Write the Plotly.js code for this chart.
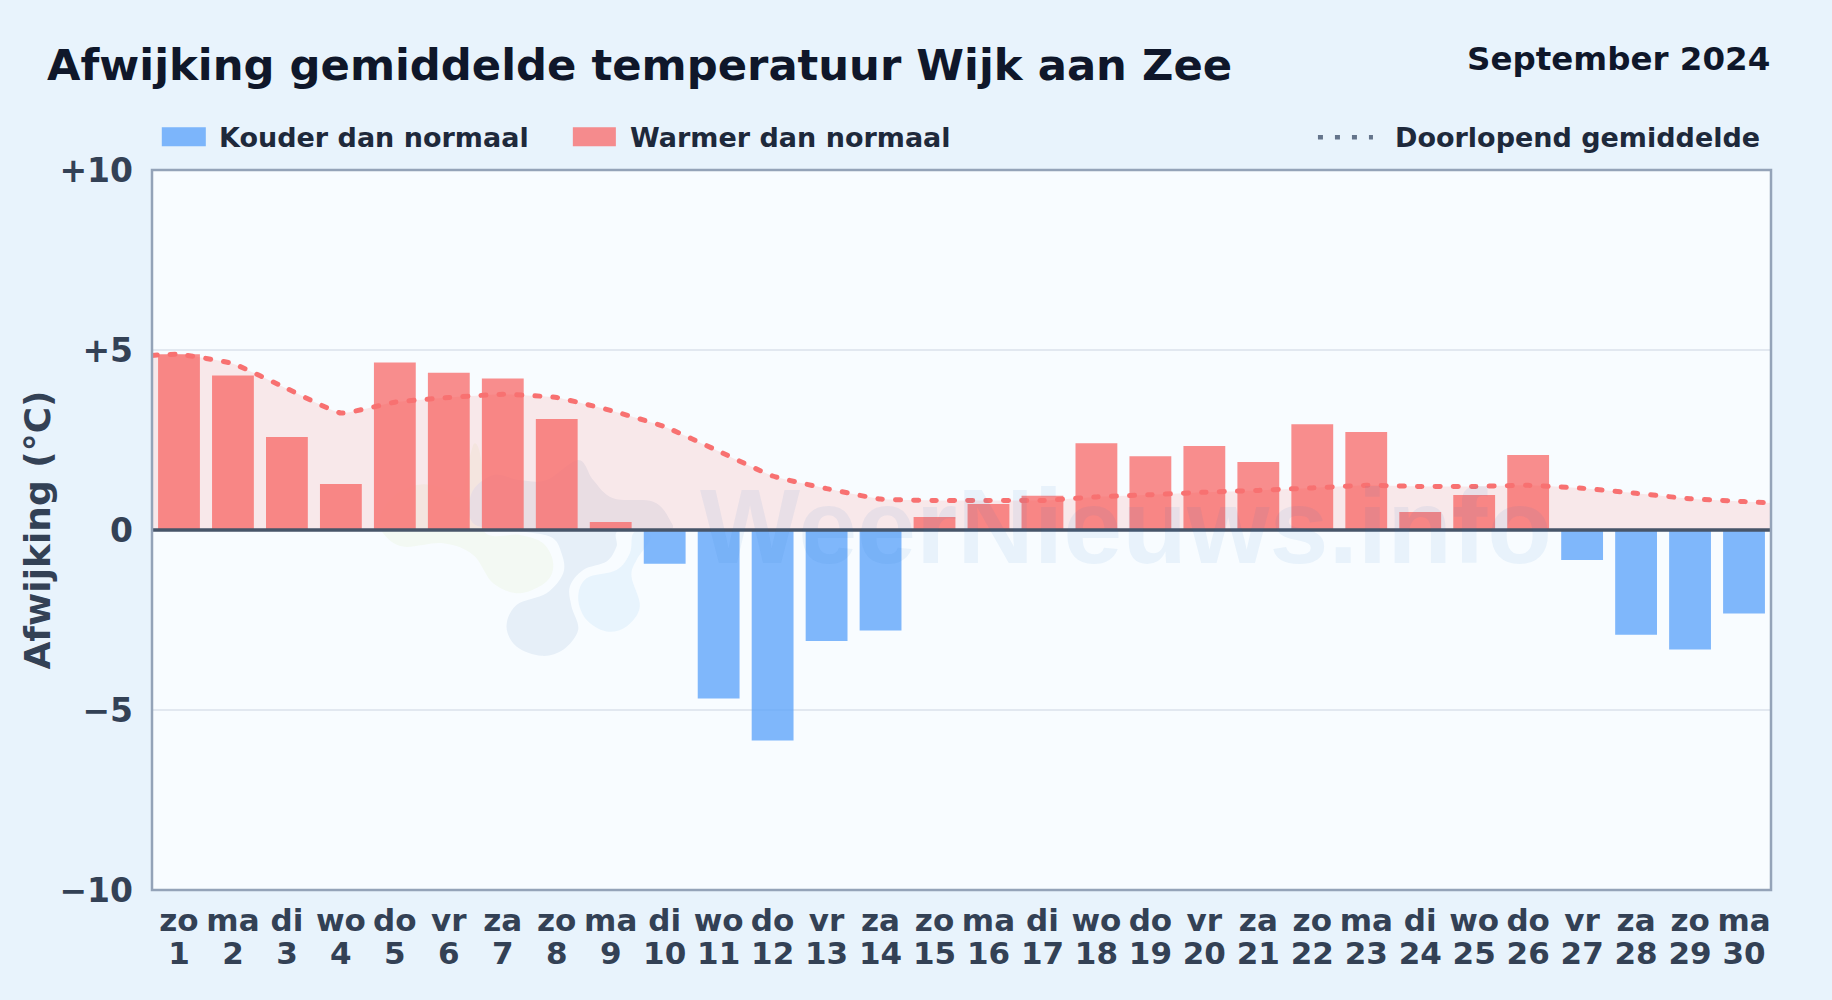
<!DOCTYPE html>
<html><head><meta charset="utf-8">
<script src="https://cdn.plot.ly/plotly-3.0.1.min.js"></script>
<style>html,body{margin:0;padding:0;background:#e8f3fc}#c{width:1832px;height:1000px}</style>
</head><body><div id="c"></div>
<script>
const days=[1,2,3,4,5,6,7,8,9,10,11,12,13,14,15,16,17,18,19,20,21,22,23,24,25,26,27,28,29,30];
const weekdays=["zo","ma","di","wo","do","vr","za","zo","ma","di","wo","do","vr","za","zo","ma","di","wo","do","vr","za","zo","ma","di","wo","do","vr","za","zo","ma"];
const deviations=[4.88,4.29,2.58,1.28,4.65,4.37,4.21,3.08,0.22,-0.94,-4.68,-5.85,-3.08,-2.79,0.36,0.72,0.95,2.41,2.05,2.33,1.89,2.94,2.72,0.50,0.97,2.08,-0.83,-2.91,-3.32,-2.32];
const meanX=[0.5,1,2,3,4,5,6,7,8,9,10,11,12,13,14,15,16,17,18,19,20,21,22,23,24,25,26,27,28,29,30,30.5];
const meanY=[4.85,4.88,4.62,3.93,3.25,3.55,3.68,3.77,3.68,3.32,2.87,2.19,1.5,1.15,0.86,0.82,0.82,0.82,0.92,0.98,1.05,1.10,1.17,1.24,1.21,1.21,1.24,1.16,1.02,0.87,0.79,0.75];
const yTicks=[-10,-5,0,5,10];
const yLabels=["−10","−5","0","+5","+10"];
const FONT='"DejaVu Sans", sans-serif';
const warmIdx=days.map((d,i)=>i).filter(i=>deviations[i]>=0);
const coldIdx=days.map((d,i)=>i).filter(i=>deviations[i]<0);
function paperShape(o){return Object.assign({xref:'paper',yref:'paper'},o);}
const W=1832,H=1000,L=152.2,R=1771,T=169.7,B=890.4;
const px=x=>(x-L)/(R-L), py=y=>(B-y)/(B-T);
// faint watermark logo outlines, traced in a 3x crop whose origin is (360,430)
const logoGreen=[[70,310],[130,350],[250,340],[340,375],[400,460],[480,490],[560,455],[580,400],[550,340],[480,315],[370,300],[365,100],[345,40],[325,100],[300,200],[240,170],[170,165],[100,200],[60,260]];
const logoBlue=[[440,590],[470,525],[560,490],[610,430],[605,370],[570,320],[450,300],[340,280],[335,190],[400,135],[480,150],[560,150],[655,90],[700,150],[760,205],[880,215],[930,270],[925,300],[780,300],[770,350],[740,395],[670,420],[630,470],[635,530],[655,600],[610,660],[545,678],[470,650]];
const logoSky=[[655,505],[680,445],[770,420],[810,370],[820,310],[860,305],[870,330],[830,390],[815,440],[840,530],[800,590],[740,605],[680,570]];
function blob(pts){
  const P=pts.map(p=>[px(360+p[0]/3),py(430+p[1]/3)]),n=P.length;
  let d='M'+P[0][0]+','+P[0][1];
  for(let i=0;i<n;i++){
    const a=P[(i-1+n)%n],b=P[i],c=P[(i+1)%n],e=P[(i+2)%n];
    d+=' C'+(b[0]+(c[0]-a[0])/6)+','+(b[1]+(c[1]-a[1])/6)+' '+(c[0]-(e[0]-b[0])/6)+','+(c[1]-(e[1]-b[1])/6)+' '+c[0]+','+c[1];
  }
  return d+' Z';
}
const traces=[
 {type:'scatter',mode:'lines',x:meanX,y:meanY,fill:'tozeroy',fillcolor:'rgba(255,90,80,0.12)',line:{width:0,shape:'spline',smoothing:0.4},showlegend:false,hoverinfo:'skip'},
 {type:'bar',name:'Warmer dan normaal',x:warmIdx.map(i=>days[i]),y:warmIdx.map(i=>deviations[i]),width:0.775,marker:{color:'#f87171',opacity:0.8,line:{width:0}},showlegend:false},
 {type:'bar',name:'Kouder dan normaal',x:coldIdx.map(i=>days[i]),y:coldIdx.map(i=>deviations[i]),width:0.775,marker:{color:'#60a5fa',opacity:0.8,line:{width:0}},showlegend:false},
 {type:'scatter',mode:'lines',name:'Doorlopend gemiddelde',x:meanX,y:meanY,line:{color:'#f87171',width:5,dash:'5px,13px',shape:'spline',smoothing:0.4},showlegend:false},
 {type:'scatter',mode:'lines',xaxis:'x2',yaxis:'y2',x:days,y:days.map(()=>null),showlegend:false,hoverinfo:'skip'}
];
const layout={
 width:W,height:H,margin:{l:L,r:W-R,t:T,b:H-B,pad:0},
 paper_bgcolor:'#e8f3fc',plot_bgcolor:'#f8fcff',barmode:'overlay',showlegend:false,
 font:{family:FONT,color:'#334155'},
 xaxis:{range:[0.5,30.5],tickmode:'array',tickvals:days,ticktext:weekdays,tickangle:0,showgrid:false,zeroline:false,ticks:'',
   ticklabelstandoff:9,tickfont:{family:FONT,size:31,weight:700,color:'#334155'},showline:false},
 xaxis2:{overlaying:'x',anchor:'y2',side:'bottom',range:[0.5,30.5],tickmode:'array',tickvals:days,ticktext:days.map(String),tickangle:0,showgrid:false,zeroline:false,ticks:'',
   ticklabelstandoff:42,tickfont:{family:FONT,size:31,weight:700,color:'#334155'},showline:false},
 yaxis:{range:[-10,10],tickmode:'array',tickvals:yTicks,ticktext:yLabels,ticks:'',showgrid:true,gridcolor:'#e2e8f0',gridwidth:2,zeroline:false,showticklabels:false,showline:false,
   title:{text:'Afwijking (°C)',standoff:89,font:{family:FONT,size:36,weight:700,color:'#334155'}}},
 yaxis2:{overlaying:'y',anchor:'x2',side:'left',range:[-10,10],tickmode:'array',tickvals:yTicks,ticktext:yLabels,ticks:'',showgrid:false,zeroline:false,
   ticklabelstandoff:18,tickfont:{family:FONT,size:33,weight:700,color:'#334155'},showline:false},
 shapes:[
  paperShape({type:'path',path:blob(logoGreen),fillcolor:'#f3f9f3',line:{width:0},layer:'below'}),
  paperShape({type:'path',path:blob(logoBlue),fillcolor:'#e6eff8',line:{width:0},layer:'below'}),
  paperShape({type:'path',path:blob(logoSky),fillcolor:'#e8f4fd',line:{width:0},layer:'below'}),
  {type:'line',xref:'paper',x0:0,x1:1,yref:'y',y0:0,y1:0,line:{color:'#475569',width:3.5},layer:'above'},
  paperShape({type:'rect',x0:0,x1:1,y0:0,y1:1,line:{color:'#94a3b8',width:2.5},layer:'above'}),
  paperShape({type:'rect',x0:px(162),x1:px(206),y0:py(127),y1:py(146),fillcolor:'rgba(96,165,250,0.8)',line:{width:0}}),
  paperShape({type:'rect',x0:px(573),x1:px(616),y0:py(127),y1:py(146),fillcolor:'rgba(248,113,113,0.8)',line:{width:0}}),
  paperShape({type:'line',x0:px(1318),x1:px(1373),y0:py(137),y1:py(137),line:{color:'#64748b',width:4.5,dash:'5px,12px'}})
 ],
 annotations:[
  {xref:'paper',yref:'paper',x:px(45),y:py(65),xanchor:'left',yanchor:'middle',showarrow:false,text:'Afwijking gemiddelde temperatuur Wijk aan Zee',font:{family:FONT,size:43.3,weight:700,color:'#0f172a'}},
  {xref:'paper',yref:'paper',x:px(1772),y:py(59),xanchor:'right',yanchor:'middle',showarrow:false,text:'September 2024',font:{family:FONT,size:32.5,weight:700,color:'#0f172a'}},
  {xref:'paper',yref:'paper',x:px(217),y:py(137),xanchor:'left',yanchor:'middle',showarrow:false,text:'Kouder dan normaal',font:{family:FONT,size:27,weight:700,color:'#1e293b'}},
  {xref:'paper',yref:'paper',x:px(628),y:py(137),xanchor:'left',yanchor:'middle',showarrow:false,text:'Warmer dan normaal',font:{family:FONT,size:27,weight:700,color:'#1e293b'}},
  {xref:'paper',yref:'paper',x:px(1393),y:py(137),xanchor:'left',yanchor:'middle',showarrow:false,text:'Doorlopend gemiddelde',font:{family:FONT,size:27,weight:700,color:'#1e293b'}},
  {xref:'paper',yref:'paper',x:px(698),y:py(526),xanchor:'left',yanchor:'middle',showarrow:false,text:'WeerNieuws.info',font:{family:'"Liberation Sans", sans-serif',size:106,weight:700,color:'rgba(23,113,192,0.07)'}}
 ]
};
Plotly.newPlot('c',traces,layout,{displayModeBar:false,staticPlot:true}).then(()=>{
  document.querySelectorAll('.scatterlayer .js-line').forEach(p=>p.style.strokeLinecap='round');
});
</script></body></html>
